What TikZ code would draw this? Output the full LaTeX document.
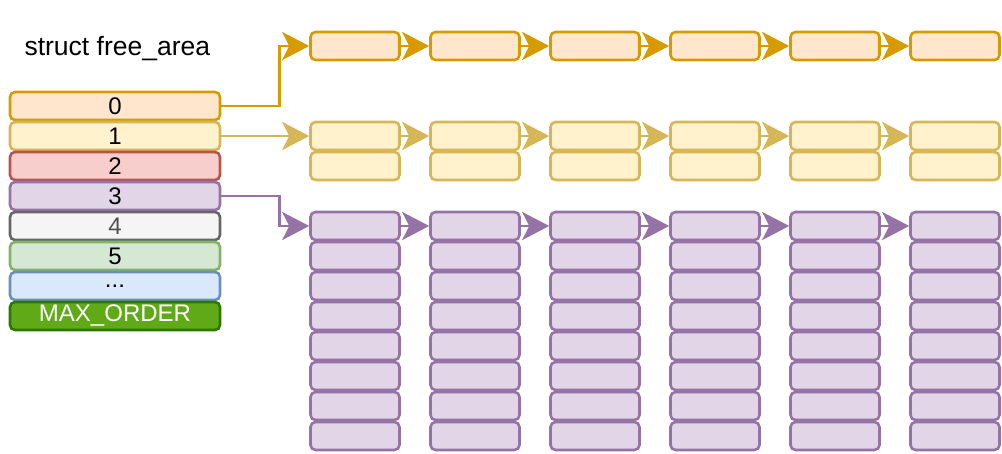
\documentclass[tikz,border=0pt]{standalone}
\usepackage{fontspec}
\setmainfont{Liberation Sans}
\usetikzlibrary{arrows.meta,positioning}

\definecolor{orgfill}{HTML}{FFE6CC}\definecolor{orgline}{HTML}{D79B00}
\definecolor{ylwfill}{HTML}{FFF2CC}\definecolor{ylwline}{HTML}{D6B656}
\definecolor{redfill}{HTML}{F8CECC}\definecolor{redline}{HTML}{B85450}
\definecolor{prpfill}{HTML}{E1D5E7}\definecolor{prpline}{HTML}{9673A6}
\definecolor{gryfill}{HTML}{F5F5F5}\definecolor{gryline}{HTML}{666666}
\definecolor{grnfill}{HTML}{D5E8D4}\definecolor{grnline}{HTML}{82B366}
\definecolor{blufill}{HTML}{DAE8FC}\definecolor{bluline}{HTML}{6C8EBF}
\definecolor{maxfill}{HTML}{60A917}\definecolor{maxline}{HTML}{2D7600}

\tikzset{
  area/.style = {draw, line width = 2.6pt, rounded corners = 5pt, minimum width = 210pt,
    minimum height = 28pt, inner sep = 0pt, font = \fontsize{24}{24}\selectfont},
  page/.style = {area, minimum width = 89pt},
  org/.style = {fill = orgfill, draw = orgline},
  ylw/.style = {fill = ylwfill, draw = ylwline},
  prp/.style = {fill = prpfill, draw = prpline},
  link/.style = {line width = 2.8pt, -{Stealth[length = 27pt, width = 28pt, inset = 7pt]}}
}

\begin{document}
\begin{tikzpicture}[x = 1pt, y = -1pt]
\useasboundingbox (0,0) rectangle (1002,453);
\node[anchor = base west, font = \fontsize{26.5}{26.5}\selectfont] (title) at (21,55) {struct free\_area};

% order list
\node[area, org] (f0) at (115,106) {0};
\node[area, ylw] (f1) at (115,136) {1};
\node[area, fill = redfill, draw = redline] (f2) at (115,166) {2};
\node[area, prp] (f3) at (115,196) {3};
\node[area, fill = gryfill, draw = gryline, text = gryline!80!black] (f4) at (115,226) {4};
\node[area, fill = grnfill, draw = grnline] (f5) at (115,256) {5};
\node[area, fill = blufill, draw = bluline] (f6) at (115,286) {...};
\node[area, fill = maxfill, draw = maxline, text = white] (f7) at (115,316) {MAX\_ORDER};

% free blocks
\foreach \i in {1,...,6} {
  \node[page, org] (a\i) at ({235+120*\i},46) {};
  \node[page, ylw] (b\i) at ({235+120*\i},136) {};
  \node[page, ylw] at ({235+120*\i},166) {};
  \foreach \k in {0,...,7}
    \node[page, prp] (c\i-\k) at ({235+120*\i},{226+30*\k}) {};
}

\draw[link, orgline] (f0.east) -- ([xshift = -30pt]a1.west |- f0.east) |- (a1.west);
\draw[link, ylwline] (f1.east) -- (b1.west);
\draw[link, prpline] (f3.east) -- ([xshift = -30pt]c1-0.west |- f3.east) |- (c1-0.west);
\foreach \i [evaluate = \i as \j using int(\i+1)] in {1,...,5} {
  \draw[link, orgline] (a\i.east) -- (a\j.west);
  \draw[link, ylwline] (b\i.east) -- (b\j.west);
  \draw[link, prpline] (c\i-0.east) -- (c\j-0.west);
}
\end{tikzpicture}
\end{document}
